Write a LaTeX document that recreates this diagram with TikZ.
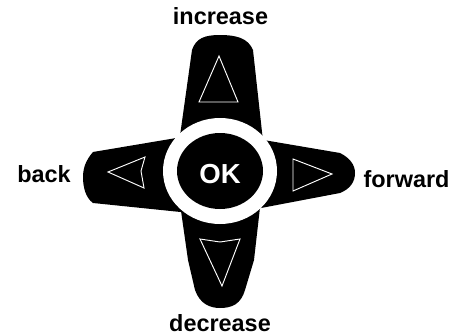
\documentclass[tikz,border=0pt]{standalone}
\usepackage{fontspec}
\setmainfont{Liberation Sans}
\usepackage{xcolor}
\usepackage{tikz}
\definecolor{PadBody}{HTML}{000000}
\definecolor{PadMark}{HTML}{FFFFFF}

\begin{document}
\begin{tikzpicture}[x=0.03cm,y=-0.03cm]
\path[use as bounding box] (0,0) rectangle (467,336);
% arms
\fill[PadBody] (178,150) -- (192,50) .. controls (196,38) and (205,35) .. (220,35) .. controls (236,35) and (248,38) .. (253,50) -- (264,150) -- cycle;
\fill[PadBody] (178,190) -- (188,260) -- (195,290) .. controls (200,304) and (210,308) .. (220,308) .. controls (232,308) and (241,304) .. (245,290) -- (254,260) -- (262,190) -- cycle;
\fill[PadBody] (200,134) -- (93,152) .. controls (86,160) and (83,168) .. (83,177) .. controls (83,188) and (86,198) .. (93,203) -- (200,214) -- cycle;
\fill[PadBody] (240,136) -- (340,153) .. controls (350,158) and (355,165) .. (355,173) .. controls (355,182) and (350,189) .. (340,193) -- (240,212) -- cycle;
% ring and centre
\fill[PadMark] (220,171) ellipse [x radius=57, y radius=53];
\fill[PadBody] (220,171) ellipse [x radius=43, y radius=38];
% arrow marks
\draw[PadMark,line width=0.8pt,line join=miter] (219,56) -- (199,102) -- (238,102) -- cycle;
\draw[PadMark,line width=0.8pt,line join=miter] (200,239) -- (220,242) -- (240,239) -- (222,286) -- cycle;
\draw[PadMark,line width=0.8pt,line join=miter] (108,172) -- (145,157) -- (141,171) -- (144,188) -- cycle;
\draw[PadMark,line width=0.8pt,line join=miter] (293,159) -- (332,174) -- (293,191) -- cycle;
% labels
\node[PadMark,anchor=base,inner sep=0pt,font=\bfseries\fontsize{23.5}{28}\selectfont] (ok) at (220,183) {OK};
\node[anchor=base,inner sep=0pt,font=\bfseries\fontsize{20}{24}\selectfont] (increase) at (220.5,25) {increase};
\node[anchor=base,inner sep=0pt,font=\bfseries\fontsize{20}{24}\selectfont] (decrease) at (220,331) {decrease};
\node[anchor=base,inner sep=0pt,font=\bfseries\fontsize{20}{24}\selectfont] (back) at (44,182) {back};
\node[anchor=base,inner sep=0pt,font=\bfseries\fontsize{20}{24}\selectfont] (forward) at (406.5,187) {forward};
\end{tikzpicture}
\end{document}
